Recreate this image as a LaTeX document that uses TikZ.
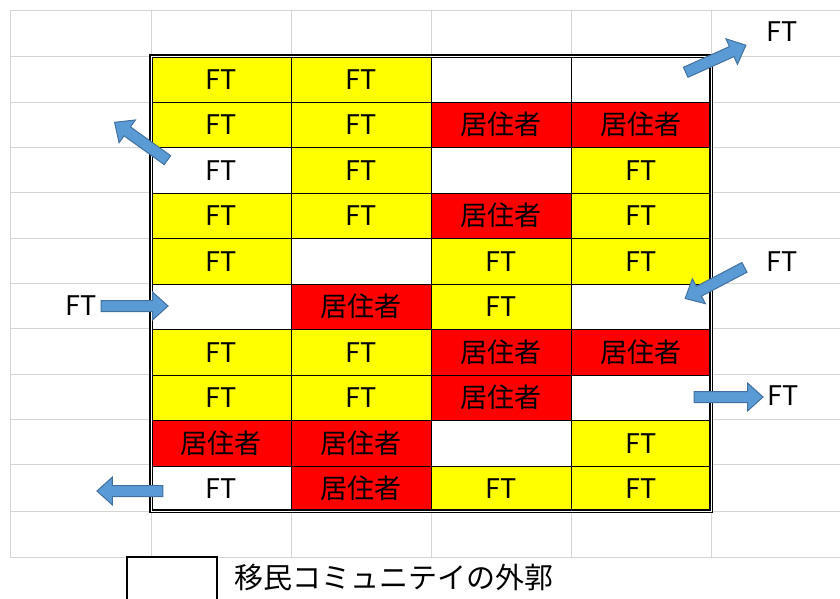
\documentclass[tikz,border=0pt]{standalone}
\usepackage{fontspec}
\newfontfamily\jp{Noto Sans CJK JP}
\usetikzlibrary{shapes.arrows}
\definecolor{colY}{HTML}{FFFF00}
\definecolor{colR}{HTML}{FF0000}
\definecolor{colW}{HTML}{FFFFFF}
\definecolor{colE}{HTML}{FFFFFF}
\definecolor{gridgray}{HTML}{D4D4D4}
\definecolor{arrfill}{HTML}{5B9BD5}
\definecolor{arrdraw}{HTML}{41719C}
\def\txtY{FT}
\def\txtW{FT}
\def\txtE{}
\def\txtR{居住者}
\tikzset{
  cell/.style={draw=black, line width=0.8pt, minimum width=140pt, minimum height=45.5pt,
    inner sep=0pt, anchor=north west, font=\jp\fontsize{27}{30}\selectfont},
  lbl/.style={inner sep=0pt, font=\jp\fontsize{27}{30}\selectfont},
  gridline/.style={draw=gridgray, line width=1pt},
  blockarr/.style={single arrow, draw=arrdraw, fill=arrfill, line width=1pt,
    inner sep=5pt, single arrow head extend=8.5pt, minimum width=27pt,
    single arrow tip angle=84}
}
\begin{document}
\begin{tikzpicture}[x=1pt,y=-1pt]
\useasboundingbox (0,0) rectangle (840,598);
\fill[white] (0,0) rectangle (840,598);
% spreadsheet grid
\foreach \gx in {10,151,291,431,571,711} \draw[gridline] (\gx,10) -- (\gx,557);
\foreach \gy in {10,56,102,147,192,238,283,328,374,419,464,511,557} \draw[gridline] (10,\gy) -- (840,\gy);
% cells
\foreach \row [count=\r] in {{Y,Y,E,E},{Y,Y,R,R},{W,Y,E,Y},{Y,Y,R,Y},{Y,E,Y,Y},{E,R,Y,E},{Y,Y,R,R},{Y,Y,R,E},{R,R,E,Y},{W,R,Y,Y}} {
  \foreach \t [count=\c] in \row {
    \node[cell, fill=col\t] (r\r c\c) at ({151+(\c-1)*140},{56+(\r-1)*45.5}) {\csname txt\t\endcsname};
  }
}
% outer double border
\draw[line width=1.3pt, double=white, double distance=1pt] (151,56) rectangle (711,511);
% outside labels
\node[lbl] (ft1) at (782,32) {FT};
\node[lbl] (ft2) at (81,306) {FT};
\node[lbl] (ft3) at (782,262) {FT};
\node[lbl] (ft4) at (783,396) {FT};
% arrows
\node[blockarr, minimum height=65pt, rotate=144.4] (a1) at (143.5,143) {};
\node[blockarr, minimum height=66pt, rotate=24.2] (a2) at (713,60) {};
\node[blockarr, minimum height=67pt] (a3) at (131.5,306) {};
\node[blockarr, minimum height=67pt, rotate=207.7] (a4) at (717.5,281.5) {};
\node[blockarr, minimum height=69pt] (a5) at (725.5,397) {};
\node[blockarr, minimum height=66pt, rotate=180] (a6) at (133,491) {};
% legend
\draw[line width=2.5pt] (127,600) -- (127,557) -- (217,557) -- (217,600);
\node[inner sep=0pt, anchor=west, font=\jp\fontsize{29}{30}\selectfont] (leg) at (234,577) {移民コミュニテイの外郭};
\end{tikzpicture}
\end{document}
